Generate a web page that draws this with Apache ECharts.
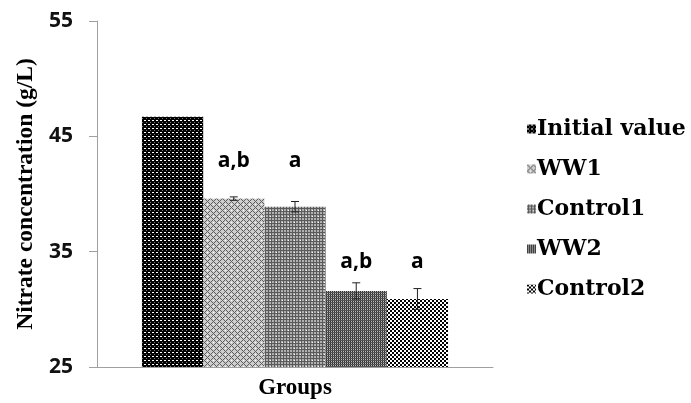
<!DOCTYPE html>
<html>
<head>
<meta charset="utf-8">
<script src="https://cdn.jsdelivr.net/npm/echarts@6/dist/echarts.min.js"></script>
<style>
  html, body { margin: 0; padding: 0; background: #fff; }
  #chart { width: 691px; height: 403px; }
</style>
</head>
<body>
<div id="chart"></div>
<script>
// Nitrate concentration per treatment group
const categories = ['Groups'];
const groupNames = ['Initial value', 'WW1', 'Control1', 'WW2', 'Control2'];
const means = [46.7, 39.6, 38.9, 31.6, 30.9];
const errors = [0, 0.15, 0.45, 0.7, 0.9];
const letters = ['', 'a,b', 'a', 'a,b', 'a'];
const yMin = 25, yMax = 55, yStep = 10;

// Small repeating fills, one per group
function tile(w, h, pick) {
  const c = document.createElement('canvas');
  c.width = w; c.height = h;
  const ctx = c.getContext('2d');
  for (let y = 0; y < h; y++) {
    for (let x = 0; x < w; x++) {
      ctx.fillStyle = pick(x, y);
      ctx.fillRect(x, y, 1, 1);
    }
  }
  return { image: c, repeat: 'repeat' };
}
const fills = [
  tile(4, 4, (x, y) => (y === 0 && x < 2) ? '#ffffff' : (x === 2 && y === 2 ? '#777777' : '#000000')),
  tile(6, 6, (x, y) => ((x + y) % 6 === 0 || (x - y + 6) % 6 === 0) ? '#5e5e5e' : (x === 3 && y === 0 ? '#ffffff' : '#cdcdcd')),
  tile(6, 6, (x, y) => (x === 0 && y === 0) ? '#ffffff' : ((x % 3 === 1 || y % 3 === 1) ? '#5a5a5a' : '#b0b0b0')),
  tile(4, 4, (x, y) => (y % 2 === 0) ? '#555555' : (x % 2 === 0 ? '#2e2e2e' : '#bdbdbd')),
  tile(4, 4, (x, y) => (((x >> 1) + (y >> 1)) % 2) ? '#ffffff' : '#000000')
];

const BAR_GAP = '0%';
const CAT_GAP = '22.7%';
const labelGaps = [0, 27, 35, 18, 26];

const barSeries = groupNames.map((name, i) => ({
  name: name,
  type: 'bar',
  barGap: BAR_GAP,
  barCategoryGap: CAT_GAP,
  itemStyle: { color: fills[i] },
  label: {
    show: letters[i] !== '',
    position: 'top',
    distance: labelGaps[i],
    formatter: () => letters[i],
    fontFamily: 'Open Sans',
    fontWeight: 'bold',
    fontSize: 21,
    color: '#000'
  },
  emphasis: { disabled: true },
  data: [means[i]]
}));

const errorData = groupNames.map((n, i) => [0, i, means[i], errors[i]]).filter(d => d[3] > 0);

const errorSeries = {
  type: 'custom',
  name: 'error',
  z: 10,
  encode: { x: 0, y: 2 },
  data: errorData,
  renderItem: function (params, api) {
    const layout = api.barLayout({ count: groupNames.length, barGap: BAR_GAP, barCategoryGap: CAT_GAP });
    const s = api.value(1);
    const v = api.value(2), e = api.value(3);
    const cx = api.coord([0, v])[0] + layout[s].offsetCenter;
    const top = api.coord([0, v + e])[1];
    const bot = api.coord([0, v - e])[1];
    const hw = 4;
    const style = { stroke: '#222', lineWidth: 1, fill: null };
    return {
      type: 'group',
      children: [
        { type: 'line', shape: { x1: cx, y1: top, x2: cx, y2: bot }, style: style },
        { type: 'line', shape: { x1: cx - hw, y1: top, x2: cx + hw, y2: top }, style: style },
        { type: 'line', shape: { x1: cx - hw, y1: bot, x2: cx + hw, y2: bot }, style: style }
      ]
    };
  }
};

const chart = echarts.init(document.getElementById('chart'), null, { renderer: 'canvas' });
chart.setOption({
  animation: false,
  backgroundColor: '#fff',
  grid: { left: 97, right: 198, top: 21, bottom: 36 },
  legend: {
    data: groupNames,
    orient: 'vertical',
    left: 522,
    top: 113,
    icon: 'rect',
    itemWidth: 9,
    itemHeight: 9,
    itemGap: 18,
    selectedMode: false,
    textStyle: {
      fontFamily: 'DejaVu Serif',
      fontWeight: 'bold',
      fontSize: 22,
      color: '#000',
      padding: [0, 0, 0, -4]
    }
  },
  xAxis: {
    type: 'category',
    data: categories,
    axisLine: { lineStyle: { color: '#a0a0a0', width: 1 } },
    axisTick: { show: false },
    axisLabel: {
      margin: 10,
      fontFamily: 'Liberation Serif',
      fontWeight: 'bold',
      fontSize: 23,
      color: '#000'
    }
  },
  yAxis: {
    type: 'value',
    min: yMin,
    max: yMax,
    interval: yStep,
    name: 'Nitrate concentration (g/L)',
    nameLocation: 'middle',
    nameGap: 58,
    nameTextStyle: {
      fontFamily: 'Liberation Serif',
      fontWeight: 'bold',
      fontSize: 23.5,
      color: '#000'
    },
    splitLine: { show: false },
    axisLine: { show: true, lineStyle: { color: '#a0a0a0', width: 1 } },
    axisTick: { show: true, length: 8, lineStyle: { color: '#a0a0a0' } },
    axisLabel: {
      margin: 24,
      fontFamily: 'Open Sans',
      fontWeight: 'bold',
      fontSize: 21,
      color: '#111'
    }
  },
  series: barSeries.concat([errorSeries])
});
</script>
</body>
</html>
